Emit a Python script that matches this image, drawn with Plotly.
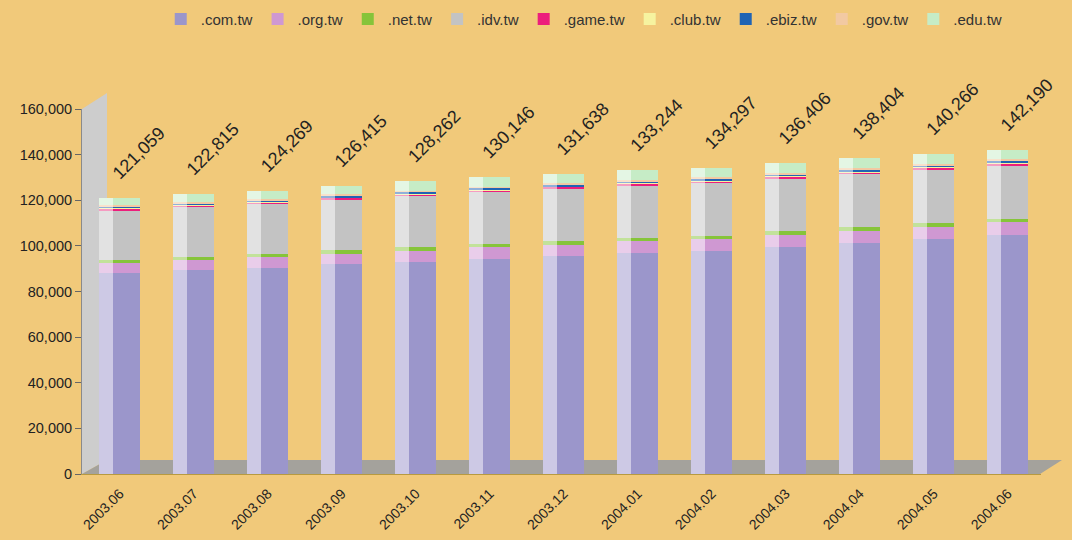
import numpy as np
import plotly.graph_objects as go

months = ["2003.06", "2003.07", "2003.08", "2003.09", "2003.10", "2003.11", "2003.12",
          "2004.01", "2004.02", "2004.03", "2004.04", "2004.05", "2004.06"]

com_tw = [88100, 89300, 90500, 91900, 93100, 94400, 95600, 96900, 97800, 99500, 101200, 102900, 104600]
org_tw = [4400, 4500, 4600, 4700, 4800, 4900, 5000, 5100, 5200, 5300, 5450, 5550, 5650]
net_tw = [1300, 1350, 1380, 1420, 1450, 1480, 1500, 1520, 1540, 1560, 1580, 1600, 1620]
idv_tw = [21900, 22000, 22000, 22300, 22600, 22900, 23000, 23100, 23100, 23200, 23300, 23400, 23500]
game_tw = [700, 710, 720, 730, 740, 750, 760, 770, 780, 800, 820, 840, 860]
club_tw = [250, 255, 260, 265, 270, 275, 280, 282, 285, 288, 290, 295, 300]
ebiz_tw = [600, 620, 640, 660, 680, 690, 700, 710, 720, 740, 760, 780, 800]
gov_tw = [600, 610, 615, 620, 625, 630, 640, 645, 650, 660, 670, 680, 690]
edu_tw = [3209, 3470, 3554, 3820, 3997, 4121, 4158, 4217, 4222, 4358, 4334, 4221, 4170]

totals = [121059, 122815, 124269, 126415, 128262, 130146, 131638,
          133244, 134297, 136406, 138404, 140266, 142190]

series = [
    (".com.tw", com_tw, "#9b96cb", "#cdc9e5"),
    (".org.tw", org_tw, "#cf98d2", "#e9cdea"),
    (".net.tw", net_tw, "#86c43a", "#c2e29a"),
    (".idv.tw", idv_tw, "#c3c3c3", "#e2e2e2"),
    (".game.tw", game_tw, "#ec1e7c", "#f59cc2"),
    (".club.tw", club_tw, "#f6f3a0", "#faf8cc"),
    (".ebiz.tw", ebiz_tw, "#2064b4", "#8fb1da"),
    (".gov.tw", gov_tw, "#f2c9a2", "#f8e2cc"),
    (".edu.tw", edu_tw, "#c6ecc6", "#e4f6e4"),
]

BG = "#f1c97a"
FONT = "Liberation Sans, Arial, sans-serif"
fig = go.Figure()

base = np.zeros(len(months))
xs = np.arange(len(months))
for name, vals, front, side in series:
    v = np.array(vals, dtype=float)
    fig.add_trace(go.Bar(
        x=xs, y=v, base=base, width=0.19, offset=-0.28,
        marker=dict(color=side, line=dict(width=0)),
        showlegend=False, hoverinfo="skip"))
    fig.add_trace(go.Bar(
        x=xs, y=v, base=base, width=0.37, offset=-0.09,
        marker=dict(color=front, line=dict(width=0)),
        name=name))
    base = base + v

annotations = []
for i, t in enumerate(totals):
    annotations.append(dict(
        x=xs[i], y=t, xref="x", yref="y", text=f"{t:,}",
        showarrow=False, textangle=-45, xshift=19, yshift=45,
        font=dict(family=FONT, size=18, color="#222")))

L, R, T, B = 82, 1041, 109, 474
W, H = R - L, B - T


def px(xp, yp):
    return f"{(xp - L) / W:.4f},{(B - yp) / H:.4f}"


wall = f"M {px(82,474)} L {px(82,109)} L {px(107,93)} L {px(107,460)} Z"
floor = f"M {px(82,474)} L {px(107,460)} L {px(1062,460)} L {px(1040,474)} Z"
shapes = [
    dict(type="path", path=wall, xref="paper", yref="paper", fillcolor="#cdcdcd",
         line=dict(width=0), layer="below"),
    dict(type="path", path=floor, xref="paper", yref="paper", fillcolor="#a4a29c",
         line=dict(width=0), layer="below"),
]

fig.update_layout(
    width=1072, height=540,
    paper_bgcolor=BG, plot_bgcolor="rgba(0,0,0,0)",
    margin=dict(l=L, r=1072 - R, t=T, b=540 - B, autoexpand=False),
    barmode="overlay",
    bargap=0,
    font=dict(family=FONT, size=13, color="#222"),
    legend=dict(orientation="h", x=0.545, xref="container", xanchor="center",
                y=0.995, yref="container", yanchor="top",
                font=dict(size=15, color="#333"),
                itemwidth=30, traceorder="normal", bgcolor="rgba(0,0,0,0)"),
    annotations=annotations,
    shapes=shapes,
    showlegend=True,
)
fig.update_xaxes(
    range=[-0.51, 12.45], tickmode="array", tickvals=list(xs), ticktext=months,
    tickangle=-45, showgrid=False, zeroline=False, automargin=False,
    showline=True, linecolor="#b89a40", linewidth=1, ticks="", ticklabelstandoff=5,
    tickfont=dict(size=14, color="#222"))
fig.update_yaxes(
    range=[0, 160000], tickvals=[0, 20000, 40000, 60000, 80000, 100000, 120000, 140000, 160000],
    tickformat=",d", showgrid=False, zeroline=False, automargin=False,
    showline=True, linecolor="#8a8a8a", linewidth=1, ticks="outside", ticklen=6,
    tickcolor="#666", tickfont=dict(size=14.5, color="#222"))

fig.write_html(
    "out.html",
    config={"displayModeBar": False},
    post_script="document.body.style.margin='0';document.body.style.padding='0';"
                "document.body.style.overflow='hidden';",
)
